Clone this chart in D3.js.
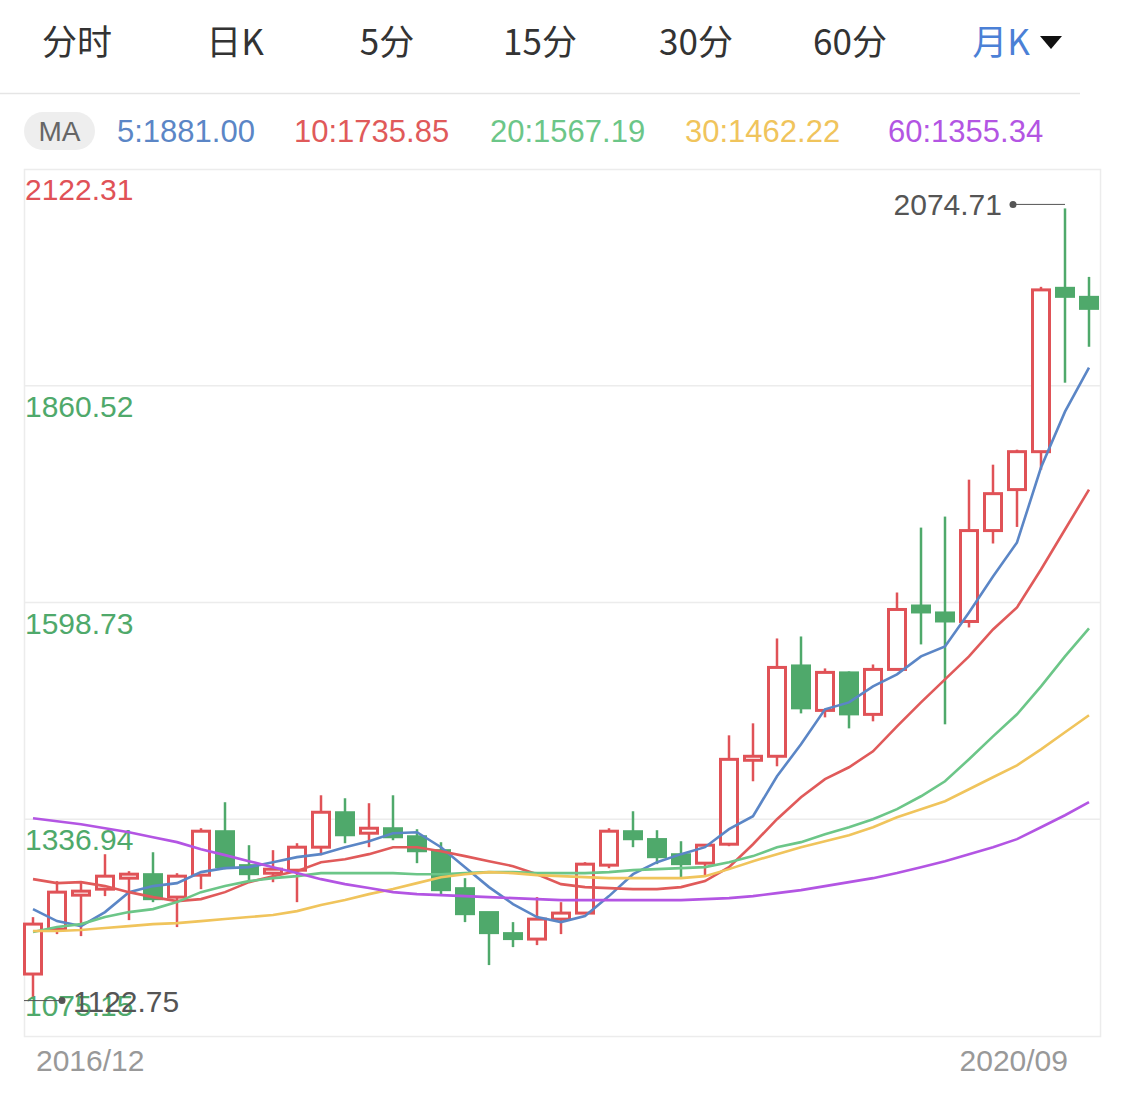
<!DOCTYPE html>
<html><head><meta charset="utf-8">
<script src="https://cdn.jsdelivr.net/npm/d3@7"></script>
<style>body{margin:0;background:#fff}svg{display:block}</style>
</head><body>
<script>
const tabs = ["分时","日K","5分","15分","30分","60分","月K"];
const maLabels = ["5:1881.00","10:1735.85","20:1567.19","30:1462.22","60:1355.34"];
const yTicks = [2122.31,1860.52,1598.73,1336.94,1075.15];
const xLabels = ["2016/12","2020/09"];
const opens = [1150.0,1204.2,1247.7,1252.5,1268.2,1270.6,1242.9,1269.4,1322.5,1281.5,1271.8,1275.4,1303.2,1345.4,1320.1,1326.1,1316.4,1299.6,1253.7,1224.8,1199.4,1192.2,1216.3,1223.6,1281.5,1322.5,1313.0,1294.7,1283.9,1306.8,1409.3,1413.0,1522.7,1468.4,1514.3,1463.6,1517.9,1595.1,1586.7,1575.8,1685.6,1735.1,1780.9,1978.8,1967.9];
const closes = [1210.3,1248.9,1250.1,1268.2,1270.6,1240.4,1268.2,1322.5,1279.0,1270.6,1276.6,1303.2,1345.4,1317.6,1326.1,1315.2,1298.3,1251.3,1222.3,1199.4,1192.2,1216.3,1223.6,1282.7,1322.5,1312.8,1291.1,1282.7,1305.6,1409.3,1413.0,1520.3,1470.9,1514.3,1463.6,1517.9,1590.3,1586.7,1575.8,1685.6,1730.2,1780.9,1976.3,1967.9,1953.4];
const highs = [1218.7,1262.2,1262.2,1294.7,1274.2,1297.1,1271.8,1326.1,1357.5,1305.6,1299.6,1308.0,1365.9,1362.3,1356.3,1365.9,1324.9,1309.2,1265.8,1224.8,1212.7,1242.9,1236.8,1285.1,1326.1,1346.6,1323.7,1310.4,1306.8,1438.3,1452.8,1555.3,1557.7,1519.1,1515.5,1523.9,1610.8,1689.2,1702.5,1747.1,1765.2,1783.3,1980.0,2074.71,1992.0];
const lows = [1122.75,1198.2,1195.8,1244.1,1215.1,1236.8,1206.7,1252.5,1276.6,1262.2,1260.9,1236.8,1293.5,1308.0,1303.2,1311.6,1283.9,1246.5,1212.7,1160.8,1182.5,1184.9,1198.2,1223.6,1277.8,1303.2,1282.7,1267.0,1268.2,1304.4,1382.8,1400.9,1464.8,1460.0,1446.7,1455.2,1517.9,1548.1,1451.6,1568.6,1670,1690,1759.2,1864.2,1907.6];
const ma5 = [1228.4,1213.9,1207.9,1224.8,1248.9,1256.2,1259.8,1273.1,1277.9,1279.1,1285.1,1291.2,1294.8,1303.2,1310.5,1320.1,1321.3,1303.2,1279.1,1255.0,1234.5,1218.8,1212.7,1220.0,1244.1,1270.6,1285.1,1294.8,1303.2,1324.9,1340.6,1388.9,1427.5,1469.7,1478.1,1497.5,1511.9,1533.6,1545.7,1586.7,1630.2,1671.2,1761.7,1829.2,1882.3];
const ma10 = [1264.6,1259.8,1261.0,1256.2,1248.9,1242.9,1238.1,1240.5,1248.9,1261.0,1268.2,1274.3,1285.1,1288.7,1294.8,1303.2,1303.2,1298.4,1292.4,1286.3,1280.3,1270.6,1258.6,1255.0,1253.8,1252.6,1252.6,1255.0,1262.2,1279.1,1306.8,1337.0,1363.5,1385.3,1399.7,1419.0,1449.2,1478.1,1505.9,1533.6,1566.2,1592.8,1638.6,1686.9,1735.1];
const ma20 = [1200.7,1206.7,1210.3,1218.8,1224.8,1228.4,1236.9,1248.9,1256.2,1262.2,1265.8,1268.2,1271.9,1271.9,1271.9,1271.9,1270.6,1270.6,1271.9,1273.1,1273.1,1271.9,1271.9,1271.9,1273.1,1275.5,1276.7,1277.9,1279.1,1285.1,1292.4,1303.2,1309.3,1318.9,1327.3,1337.0,1349.1,1364.7,1382.8,1409.4,1437.1,1463.7,1497.5,1533.6,1567.4];
const ma30 = [1201.9,1201.9,1203.1,1205.5,1207.9,1210.3,1211.5,1213.9,1216.4,1218.8,1221.2,1226.0,1233.3,1239.3,1246.5,1252.6,1259.8,1267.0,1270.6,1273.1,1271.9,1269.4,1268.2,1267.0,1265.8,1265.8,1265.8,1265.8,1268.2,1276.7,1286.3,1294.8,1303.2,1310.5,1317.7,1327.3,1339.4,1349.1,1358.7,1373.2,1387.7,1402.1,1421.4,1442.0,1462.5];
const ma60 = [1338.2,1334.6,1331.0,1326.1,1321.3,1315.3,1309.3,1300.8,1293.6,1286.3,1279.1,1271.9,1264.6,1258.6,1253.8,1248.9,1246.5,1245.3,1244.1,1242.9,1241.7,1240.5,1239.3,1239.3,1239.3,1239.3,1239.3,1239.3,1240.5,1241.7,1244.1,1247.7,1251.3,1256.2,1261.0,1265.8,1271.9,1279.1,1286.3,1294.8,1303.2,1312.9,1327.3,1341.8,1357.5];
const maColors = ["#5b86c6","#e05a5a","#6cc688","#f0c45c","#b355e3"];
const UP="#e05257", DOWN="#4fa96b";

const W=1125,H=1110;
const svg=d3.select("body").append("svg").attr("width",W).attr("height",H);
const F="'Liberation Sans','Noto Sans CJK SC',Arial,sans-serif";
const FC="'Noto Sans CJK SC','Liberation Sans',sans-serif";

// tabs
const tabX=[77,235,387,540,696,850,1001];
tabs.forEach((t,i)=>{
  svg.append("text").attr("x",tabX[i]).attr("y",55).attr("text-anchor","middle")
    .attr("font-family",FC).attr("font-size",35).attr("fill",i===6?"#4b80d6":"#333").text(t);
});
svg.append("path").attr("d","M1040,36 L1062,36 L1051,49 Z").attr("fill","#111");
svg.append("line").attr("x1",0).attr("x2",1080).attr("y1",93.5).attr("y2",93.5).attr("stroke","#e5e5e5").attr("stroke-width",1.5);

// MA legend
svg.append("rect").attr("x",24).attr("y",112).attr("width",71).attr("height",38).attr("rx",19).attr("fill","#eeeeee");
svg.append("text").attr("x",59.5).attr("y",141).attr("text-anchor","middle").attr("font-family",F).attr("font-size",28).attr("fill","#666").text("MA");
const maX=[117,294,490,685,888];
maLabels.forEach((t,i)=>svg.append("text").attr("x",maX[i]).attr("y",142).attr("font-family",F).attr("font-size",31).attr("fill",maColors[i]).text(t));

// scales
const x=d3.scaleBand().domain(d3.range(opens.length)).range([21,1101]);
const y=d3.scaleLinear().domain([1075.15,2122.31]).range([1036,169]);
const cx=i=>x(i)+x.bandwidth()/2;

svg.append("rect").attr("x",24.5).attr("y",169.5).attr("width",1076).attr("height",867).attr("fill","none").attr("stroke","#ececec").attr("stroke-width",1.5);
yTicks.slice(1,4).forEach(v=>svg.append("line").attr("x1",24).attr("x2",1100).attr("y1",y(v)).attr("y2",y(v)).attr("stroke","#ececec").attr("stroke-width",1.5));
yTicks.forEach((v,i)=>{
  const yy = i===4? y(v)-20 : y(v)+31;
  svg.append("text").attr("x",25).attr("y",yy).attr("font-family",F).attr("font-size",30)
    .attr("fill",i===0?UP:"#4fa96b").text(v.toFixed(2));
});
svg.append("text").attr("x",36).attr("y",1071).attr("font-family",F).attr("font-size",30).attr("fill","#999").text(xLabels[0]);
svg.append("text").attr("x",1068).attr("y",1071).attr("text-anchor","end").attr("font-family",F).attr("font-size",30).attr("fill","#999").text(xLabels[1]);

// candles
const bw=20;
opens.forEach((o,i)=>{
  const c=closes[i], up=c>=o, col=up?UP:DOWN;
  const top=y(Math.max(o,c)), bot=y(Math.min(o,c));
  const hb=Math.max(bot-top,3);
  svg.append("line").attr("x1",cx(i)).attr("x2",cx(i)).attr("y1",y(highs[i])).attr("y2",top).attr("stroke",col).attr("stroke-width",2.5);
  svg.append("line").attr("x1",cx(i)).attr("x2",cx(i)).attr("y1",top+hb).attr("y2",y(lows[i])).attr("stroke",col).attr("stroke-width",2.5);
  if(up){
    svg.append("rect").attr("x",cx(i)-bw/2+1.5).attr("y",top).attr("width",bw-3).attr("height",Math.max(hb,4)).attr("fill","#fff").attr("stroke",col).attr("stroke-width",3);
  } else {
    svg.append("rect").attr("x",cx(i)-bw/2).attr("y",top-1).attr("width",bw).attr("height",hb+2).attr("fill",col);
  }
});

// MA lines
const line=d3.line().x((d,i)=>cx(i)).y(d=>y(d));
[ma5,ma10,ma20,ma30,ma60].forEach((arr,k)=>{
  svg.append("path").datum(arr).attr("d",line).attr("fill","none").attr("stroke",maColors[k]).attr("stroke-width",2.6);
});
// max/min markers
const hiI=d3.maxIndex(highs), loI=d3.minIndex(lows);
const hy=y(highs[hiI])-4;
svg.append("line").attr("x1",1013).attr("x2",cx(hiI)).attr("y1",hy).attr("y2",hy).attr("stroke","#555").attr("stroke-width",1);
svg.append("circle").attr("cx",1013).attr("cy",hy).attr("r",3.5).attr("fill","#555");
svg.append("text").attr("x",1002).attr("y",hy+11).attr("text-anchor","end").attr("font-family",F).attr("font-size",30).attr("fill","#555").text(highs[hiI].toFixed(2));
const ly=y(lows[loI])+4;
svg.append("line").attr("x1",24).attr("x2",62).attr("y1",ly).attr("y2",ly).attr("stroke","#555").attr("stroke-width",1);
svg.append("circle").attr("cx",62).attr("cy",ly).attr("r",3.5).attr("fill","#555");
svg.append("text").attr("x",73).attr("y",ly+11).attr("font-family",F).attr("font-size",30).attr("fill","#555").text(lows[loI].toFixed(2));
</script>
</body></html>
